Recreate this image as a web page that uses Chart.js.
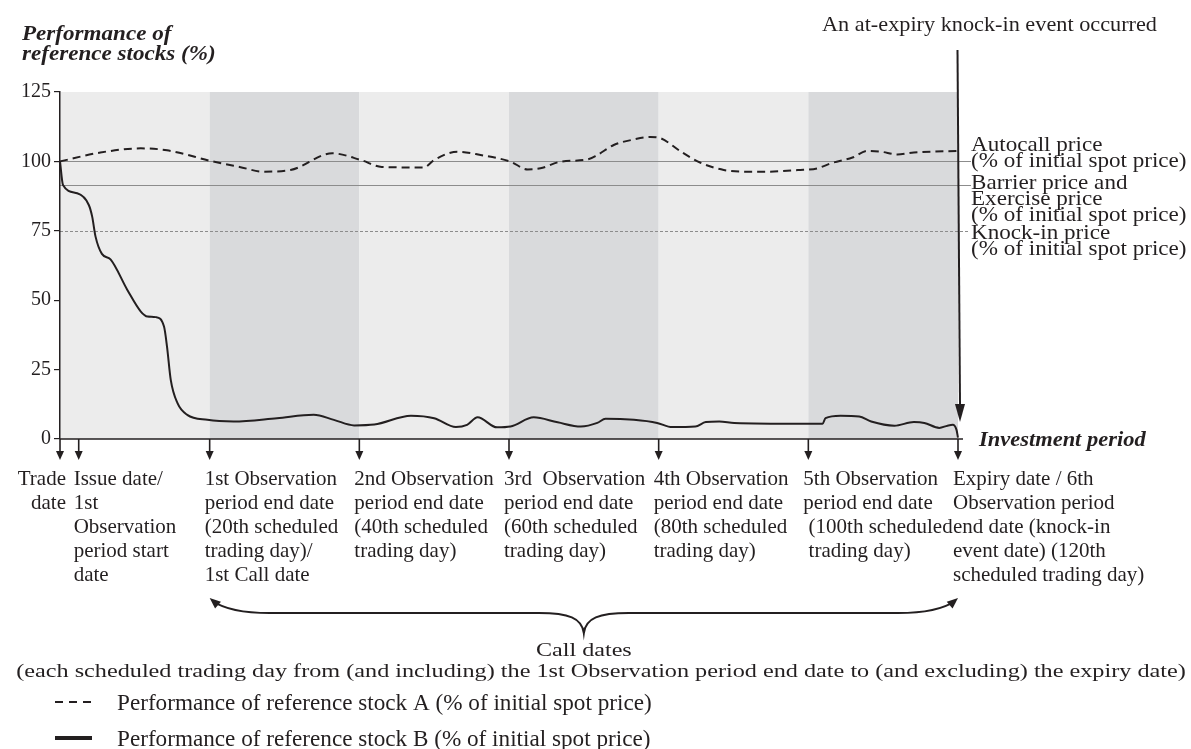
<!DOCTYPE html>
<html>
<head>
<meta charset="utf-8">
<title>Performance of reference stocks</title>
<script src="https://cdn.jsdelivr.net/npm/chart.js@4.4.1/dist/chart.umd.min.js"></script>
<style>
    html, body { margin: 0; padding: 0; background: #fff; }
    #wrap { width: 1191px; height: 749px; }
</style>
</head>
<body>
<div id="wrap"><canvas id="myChart" width="1191" height="749"></canvas></div>
<script>
"use strict";

// trading days (0 = trade date, 120 = expiry date)
const aDays = [0, 5.4, 10.8, 14.3, 20.4, 24, 27.2, 30.8, 36.4, 40.2, 43, 48.6, 50, 53.1, 56.2, 60.2, 62.5, 64.2, 66.9, 70.5,
    71.8, 74, 76.7, 78.9, 80.3, 83, 85.6, 88.7, 91.9, 94.5, 98.6, 101.2, 103, 105.9, 107.9, 109.7, 111.9, 114.1, 120];
// stock A, % of initial spot price (dashed)
const aValues = [100, 103.2, 104.7, 104, 100, 98, 96.3, 96.9, 102.9, 100.5, 98, 97.8, 100.5, 103.5, 102.3, 99.9, 97.1, 97.5, 99.9, 100.7,
    102.3, 105.9, 107.9, 108.8, 108.3, 103.5, 99.5, 96.9, 96.3, 96.3, 96.9, 97.5, 99.3, 101.4, 103.8, 103.5, 102.5, 103.2, 103.8];

const bDays = [0, 0.4, 2.3, 3.85, 4.3, 4.75, 5.6, 6.75, 9, 10.8, 11.7, 12.8, 13.9, 14.3, 14.8, 15.7, 17, 19.7, 23.2, 29,
    33.9, 36.6, 39.3, 42, 46.9, 50, 52.9, 54.4, 55.8, 58.4, 60.2, 63.3, 66.5, 69.6, 71.8, 72.9, 76.7, 79.8, 81.8, 84.9,
    86.3, 88.1, 90.1, 99, 101.9, 102.3, 104.3, 106.8, 108.4, 111.5, 114.1, 115.5, 117.5, 118.6, 119.3, 119.8, 120];
// stock B, % of initial spot price (solid)
const bValues = [100, 91.5, 88.5, 84.3, 80.1, 72.9, 66.7, 64.7, 53.7, 45.9, 44.1, 43.9, 40.5, 33.3, 21.3, 12.9, 8.7, 6.9, 6.3, 7.5,
    8.7, 6.9, 4.9, 5.2, 8.4, 7.5, 4.3, 5.1, 7.8, 4.2, 4.5, 7.8, 6.0, 4.5, 5.8, 7.3, 6.9, 5.8, 4.3, 4.5,
    6.1, 6.3, 5.8, 5.5, 5.5, 7.5, 8.4, 8.1, 6.3, 4.8, 6.1, 5.8, 4.0, 4.8, 5.1, 3.3, 0.5];

// price levels
const autocallLevel = 100;
const barrierLevel = 91.5;
const knockInLevel = 75;

// observation periods (shaded bands)
const periodStarts = [0, 20, 40, 60, 80, 100];
const periodEnds = [20, 40, 60, 80, 100, 120];

// dates marked under the axis
const markDays = [0, 2.5, 20, 40, 60, 80, 100, 120];
const markLabels = [
    ['Trade', 'date'],
    ['Issue date/', '1st', 'Observation', 'period start', 'date'],
    ['1st Observation', 'period end date', '(20th scheduled', 'trading day)/', '1st Call date'],
    ['2nd Observation', 'period end date', '(40th scheduled', 'trading day)'],
    ['3rd  Observation', 'period end date', '(60th scheduled', 'trading day)'],
    ['4th Observation', 'period end date', '(80th scheduled', 'trading day)'],
    ['5th Observation', 'period end date', ' (100th scheduled', ' trading day)'],
    ['Expiry date / 6th', 'Observation period', 'end date (knock-in', 'event date) (120th', 'scheduled trading day)']
];

const yTicks = [0, 25, 50, 75, 100, 125];

const INK = '#231f20';
const SERIF = '"Liberation Serif", "Times New Roman", serif';

function toPoints(xs, ys) {
    return xs.map((x, i) => ({x: x, y: ys[i]}));
}

// text with a bit of horizontal stretch like the original
function txt(ctx, s, x, y, size, opt) {
    opt = opt || {};
    ctx.save();
    ctx.font = (opt.style || '') + ' ' + size + 'px ' + SERIF;
    ctx.fillStyle = INK;
    ctx.textAlign = opt.align || 'left';
    ctx.textBaseline = 'alphabetic';
    ctx.translate(x, y);
    ctx.scale(opt.sx || 1, 1);
    ctx.fillText(s, 0, 0);
    ctx.restore();
}

function arrowDown(ctx, x0, y0, x1, y1, head, halfW, w) {
    ctx.save();
    ctx.strokeStyle = INK;
    ctx.fillStyle = INK;
    ctx.lineWidth = w;
    ctx.beginPath();
    ctx.moveTo(x0, y0);
    ctx.lineTo(x1, y1 - head + 1);
    ctx.stroke();
    ctx.beginPath();
    ctx.moveTo(x1, y1);
    ctx.lineTo(x1 - halfW, y1 - head);
    ctx.lineTo(x1 + halfW, y1 - head);
    ctx.closePath();
    ctx.fill();
    ctx.restore();
}

function arrowHead(ctx, tipX, tipY, fromX, fromY, len, half) {
    const a = Math.atan2(tipY - fromY, tipX - fromX);
    ctx.beginPath();
    ctx.moveTo(tipX, tipY);
    ctx.lineTo(tipX - len * Math.cos(a) + half * Math.sin(a), tipY - len * Math.sin(a) - half * Math.cos(a));
    ctx.lineTo(tipX - len * Math.cos(a) - half * Math.sin(a), tipY - len * Math.sin(a) + half * Math.cos(a));
    ctx.closePath();
    ctx.fill();
}

// backdrop: bands + price levels
const backdrop = {
    id: 'backdrop',
    beforeDraw(chart) {
        const ctx = chart.ctx;
        const xs = chart.scales.x, ys = chart.scales.y;
        const top = chart.chartArea.top, bottom = chart.chartArea.bottom;

        for (let i = 0; i < periodStarts.length; i++) {
            const x0 = xs.getPixelForValue(periodStarts[i]);
            const x1 = xs.getPixelForValue(periodEnds[i]);
            ctx.fillStyle = i % 2 === 0 ? '#ececec' : '#d9dadc';
            ctx.fillRect(x0, top, x1 - x0, bottom - top);
        }

        ctx.save();
        ctx.strokeStyle = '#8c8c8c';
        ctx.lineWidth = 1.2;
        [autocallLevel, barrierLevel].forEach(v => {
            const y = Math.round(ys.getPixelForValue(v)) + 0.5;
            ctx.beginPath();
            ctx.moveTo(chart.chartArea.left, y);
            ctx.lineTo(971, y);
            ctx.stroke();
        });
        ctx.lineWidth = 1;
        ctx.setLineDash([3, 2]);
        const yk = Math.round(ys.getPixelForValue(knockInLevel)) + 0.5;
        ctx.beginPath();
        ctx.moveTo(chart.chartArea.left, yk);
        ctx.lineTo(968, yk);
        ctx.stroke();
        ctx.restore();
    }
};

// all the notes around the plot
const notes = {
    id: 'notes',
    afterDraw(chart) {
        const ctx = chart.ctx;
        const xs = chart.scales.x;
        const area = chart.chartArea;
        const yAxis = area.bottom;

        // x axis line
        ctx.save();
        ctx.strokeStyle = INK;
        ctx.lineWidth = 1.5;
        ctx.beginPath();
        ctx.moveTo(area.left, yAxis);
        ctx.lineTo(area.right + 5, yAxis);
        ctx.stroke();
        ctx.restore();

        // titles
        txt(ctx, 'Performance of', 22, 40, 21, {style: 'italic bold', sx: 1.1});
        txt(ctx, 'reference stocks (%)', 22, 60, 21, {style: 'italic bold', sx: 1.1});
        txt(ctx, 'Investment period', 979, 446, 21, {style: 'italic bold', sx: 1.07});

        // knock-in event arrow
        const xe = xs.getPixelForValue(120);
        txt(ctx, 'An at-expiry knock-in event occurred', 822, 31, 21, {sx: 1.06});
        arrowDown(ctx, xe - 0.5, 50, xe + 2, 422, 18, 5, 2);

        // level labels on the right
        const rl = [
            ['Autocall price', 151], ['(% of initial spot price)', 167],
            ['Barrier price and', 189], ['Exercise price', 205], ['(% of initial spot price)', 221],
            ['Knock-in price', 239], ['(% of initial spot price)', 255]
        ];
        rl.forEach(r => txt(ctx, r[0], 971, r[1], 21, {sx: 1.1}));

        // date arrows and labels
        markDays.forEach((d, i) => {
            const x = xs.getPixelForValue(d);
            arrowDown(ctx, x, yAxis, x, yAxis + 21, 9, 4, 1.6);
            markLabels[i].forEach((s, k) => {
                if (i === 0) {
                    txt(ctx, s, x + 6, 485 + k * 24, 21, {align: 'right'});
                } else {
                    txt(ctx, s, x - 5, 485 + k * 24, 21);
                }
            });
        });

        // call dates brace
        const xl = xs.getPixelForValue(20), xr = xs.getPixelForValue(120);
        const xm = (xl + xr) / 2;
        ctx.save();
        ctx.strokeStyle = INK;
        ctx.fillStyle = INK;
        ctx.lineWidth = 2;
        ctx.beginPath();
        ctx.moveTo(xl + 3, 601);
        ctx.quadraticCurveTo(xl + 20, 613, xl + 60, 613);
        ctx.lineTo(xm - 45, 613);
        ctx.bezierCurveTo(xm - 15, 613, xm - 2, 618, xm, 633);
        ctx.bezierCurveTo(xm + 2, 618, xm + 15, 613, xm + 45, 613);
        ctx.lineTo(xr - 60, 613);
        ctx.quadraticCurveTo(xr - 20, 613, xr - 3, 601);
        ctx.stroke();
        arrowHead(ctx, xl, 598, xl + 14, 610, 11, 4.5);
        arrowHead(ctx, xr, 598, xr - 14, 610, 11, 4.5);
        ctx.restore();

        txt(ctx, 'Call dates', xm, 656, 19, {align: 'center', sx: 1.27});
        txt(ctx, '(each scheduled trading day from (and including) the 1st Observation period end date to (and excluding) the expiry date)',
            601, 677, 19, {align: 'center', sx: 1.274});

        // legend
        const sets = chart.data.datasets;
        const legY = [702, 738];
        const legBase = [710, 746];
        sets.forEach((ds, i) => {
            ctx.save();
            ctx.strokeStyle = INK;
            ctx.lineWidth = i === 0 ? 2 : 4;
            ctx.setLineDash(i === 0 ? [8, 6] : []);
            ctx.beginPath();
            ctx.moveTo(55, legY[i]);
            ctx.lineTo(92, legY[i]);
            ctx.stroke();
            ctx.restore();
            txt(ctx, ds.label, 117, legBase[i], 22.5, {sx: 1.03});
        });
    }
};

const ctx = document.getElementById('myChart');
const myChart = new Chart(ctx, {
    type: 'line',
    data: {
        datasets: [{
            label: 'Performance of reference stock A (% of initial spot price)',
            data: toPoints(aDays, aValues),
            borderColor: INK,
            borderWidth: 2,
            borderDash: [8, 5],
            pointRadius: 0,
            cubicInterpolationMode: 'monotone',
            fill: false,
            clip: 6
        }, {
            label: 'Performance of reference stock B (% of initial spot price)',
            data: toPoints(bDays, bValues),
            borderColor: INK,
            borderWidth: 2,
            pointRadius: 0,
            cubicInterpolationMode: 'monotone',
            fill: false,
            clip: 6
        }]
    },
    options: {
        responsive: false,
        animation: false,
        events: [],
        layout: {
            padding: {left: 0, right: 233, top: 92, bottom: 310}
        },
        plugins: {
            legend: {display: false},
            tooltip: {enabled: false}
        },
        scales: {
            x: {
                type: 'linear',
                min: 0,
                max: 120,
                display: false
            },
            y: {
                min: 0,
                max: 125,
                afterFit(scale) { scale.width = 60; },
                afterBuildTicks(scale) { scale.ticks = yTicks.map(v => ({value: v})); },
                ticks: {
                    color: INK,
                    padding: 3,
                    font: {family: SERIF, size: 20}
                },
                grid: {
                    drawOnChartArea: false,
                    tickLength: 6,
                    color: INK,
                    lineWidth: 1.2
                },
                border: {color: INK, width: 1.5}
            }
        }
    },
    plugins: [backdrop, notes]
});
</script>
</body>
</html>
